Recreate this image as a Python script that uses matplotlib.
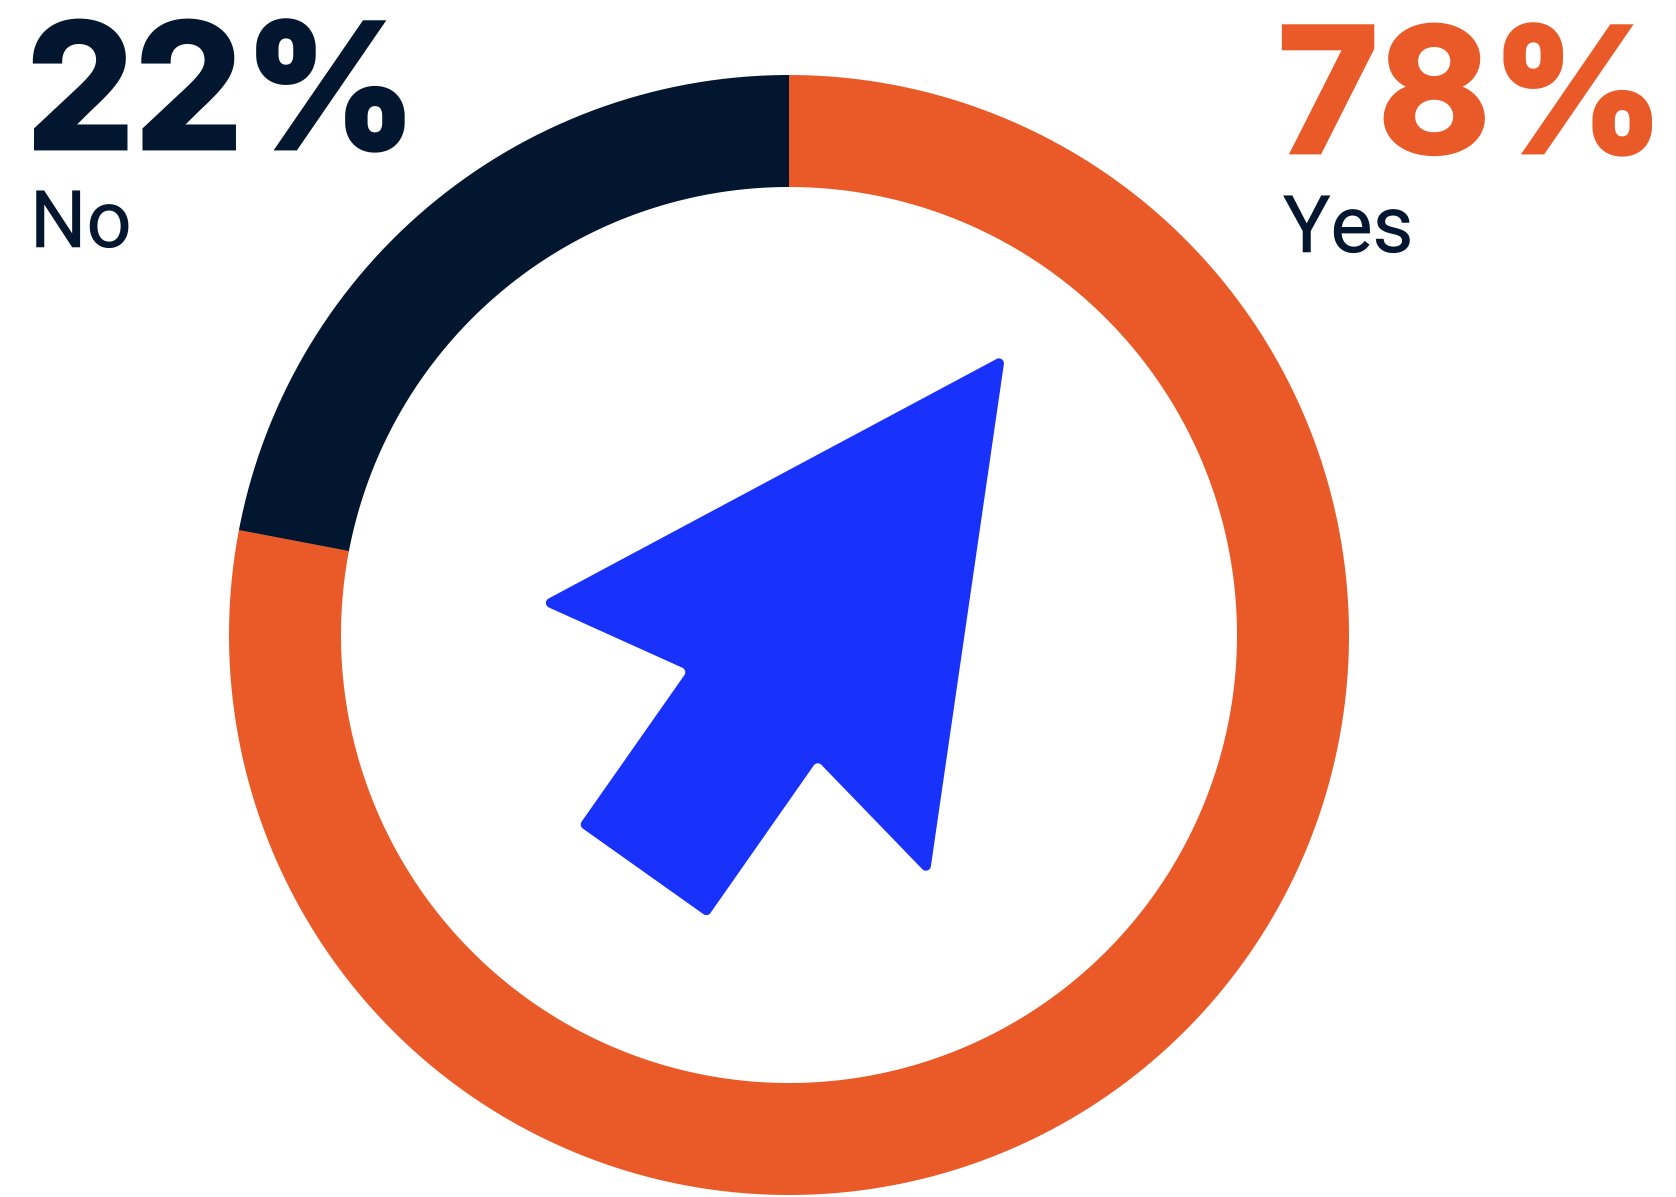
import io
import numpy as np
import matplotlib
matplotlib.use('Agg')
import matplotlib.pyplot as plt
import matplotlib.patheffects as pe
from matplotlib.patches import Polygon

labels = ['No', 'Yes']
shares = [22, 78]
colors = ['#02172F', '#EA5B29']
arrow_color = '#1932FB'

W, H = 1676, 1197
SS = 4   # rendered larger and averaged down so the long arcs stay smooth

# cursor outline in pixels, y measured from the top
cursor = [(1005.3, 354.3), (929.4, 876.5), (817.2, 760.5), (707.6, 917.1),
          (578.8, 825.7), (687.8, 670.2), (539.6, 603.3)]


def rounded(points, r=5.0):
    # replace every corner with a small circular arc
    pts = np.array(points, dtype=float)
    out = []
    n = len(pts)
    for i in range(n):
        p = pts[i]
        u = (pts[i - 1] - p) / np.hypot(*(pts[i - 1] - p))
        v = (pts[(i + 1) % n] - p) / np.hypot(*(pts[(i + 1) % n] - p))
        half = np.arccos(np.dot(u, v)) / 2
        d = r / np.tan(half)
        bis = (u + v) / np.hypot(*(u + v))
        c = p + bis * r / np.sin(half)
        a = p + u * d - c
        b = p + v * d - c
        t0 = np.arctan2(a[1], a[0])
        dt = (np.arctan2(b[1], b[0]) - t0 + np.pi) % (2 * np.pi) - np.pi
        for t in np.linspace(t0, t0 + dt, 12):
            out.append(c + r * np.array([np.cos(t), np.sin(t)]))
    return np.array(out)


fig = plt.figure(figsize=(W / 100, H / 100), dpi=100, facecolor='white')
ax = fig.add_axes([0, 0, 1, 1])

ax.pie(shares, colors=colors, startangle=90, counterclock=True, center=(789, H - 635),
       radius=560, frame=True, wedgeprops={'width': 112, 'linewidth': 0})

ax.add_patch(Polygon(rounded([(x, H - y) for x, y in cursor]), closed=True,
                     fc=arrow_color, ec='none'))

ax.set_xlim(0, W)
ax.set_ylim(0, H)
ax.set_aspect('equal')
ax.axis('off')


def big(x, y, s, color):
    t = ax.text(x, H - y, s, color=color, fontsize=124, family='Inter', fontweight='bold',
                ha='left', va='baseline')
    t.set_path_effects([pe.withStroke(linewidth=3.5, foreground=color, joinstyle='miter')])


def small(x, y, s):
    t = ax.text(x, H - y, s, color=colors[0], fontsize=57, family='Roboto',
                ha='left', va='baseline')
    t.set_path_effects([pe.withStroke(linewidth=0.4, foreground=colors[0])])


big(26, 148, '%d%%' % shares[0], colors[0])
big(1278, 152, '%d%%' % shares[1], colors[1])
small(30, 247, labels[0])
small(1283, 252, labels[1])

buf = io.BytesIO()
fig.savefig(buf, dpi=100 * SS, format='png')
buf.seek(0)
img = plt.imread(buf)[:, :, :3]
img = img.reshape(H, SS, W, SS, 3).mean(axis=(1, 3))
plt.imsave('out.png', img)
